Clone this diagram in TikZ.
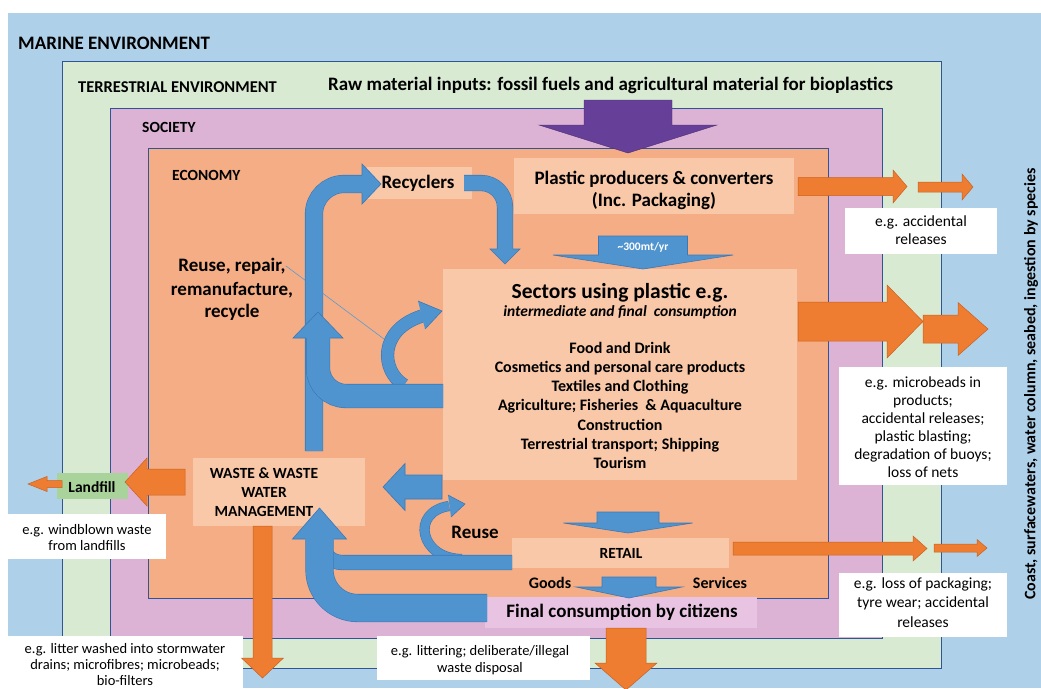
\documentclass[tikz,border=0pt]{standalone}
\usepackage{fontspec}
\setmainfont{Carlito}
\definecolor{marineC}{HTML}{AFD0E9}
\definecolor{terrC}{HTML}{D9EAD3}
\definecolor{socC}{HTML}{DDB3D5}
\definecolor{econC}{HTML}{F4AD84}
\definecolor{lboxC}{HTML}{F8C8A8}
\definecolor{finalC}{HTML}{E9C4E2}
\definecolor{landC}{HTML}{A9D39A}
\definecolor{bfillC}{HTML}{4F94CF}
\definecolor{bedgeC}{HTML}{3A78B8}
\definecolor{orangeC}{HTML}{EE7D31}
\definecolor{oedgeC}{HTML}{C9611F}
\definecolor{purpleC}{HTML}{663F98}
\definecolor{navyC}{HTML}{2F5597}
\definecolor{lineC}{HTML}{5B9BD5}
\newcommand\fsz[2]{\fontsize{#1}{#2}\selectfont}
% horizontal block arrow: shaft start x, head base x, tip x, centre y, shaft half, head half, style
\newcommand\blockH[7]{\path[#7] ({#1},{#4-#5}) -- ({#2},{#4-#5}) -- ({#2},{#4-#6}) -- ({#3},{#4}) -- ({#2},{#4+#6}) -- ({#2},{#4+#5}) -- ({#1},{#4+#5}) -- cycle;}
% vertical block arrow: shaft start y, head base y, tip y, centre x, shaft half, head half, style
\newcommand\blockV[7]{\path[#7] ({#4-#5},{#1}) -- ({#4-#5},{#2}) -- ({#4-#6},{#2}) -- ({#4},{#3}) -- ({#4+#6},{#2}) -- ({#4+#5},{#2}) -- ({#4+#5},{#1}) -- cycle;}
% heads for band arrows
\newcommand\headH[5]{\fill[bfillC] ({#1},{#3-#5}) -- ({#2},{#3}) -- ({#1},{#3+#5}) -- cycle;
 \draw[bedgeC, line width=0.6pt] ({#1},{#3-#4}) -- ({#1},{#3-#5}) -- ({#2},{#3}) -- ({#1},{#3+#5}) -- ({#1},{#3+#4});}
\newcommand\headV[5]{\fill[bfillC] ({#3-#5},{#1}) -- ({#3},{#2}) -- ({#3+#5},{#1}) -- cycle;
 \draw[bedgeC, line width=0.6pt] ({#3-#4},{#1}) -- ({#3-#5},{#1}) -- ({#3},{#2}) -- ({#3+#5},{#1}) -- ({#3+#4},{#1});}
\begin{document}
\begin{tikzpicture}[x=1pt,y=-1pt,
 txt/.style={inner sep=0pt, anchor=base},
 envline/.style={draw=navyC, line width=0.7pt},
 lbox/.style={fill=lboxC, inner sep=0pt, anchor=north west},
 wbox/.style={fill=white, inner sep=0pt, anchor=north west},
 oarrow/.style={fill=orangeC, draw=oedgeC, line width=0.5pt},
 barrow/.style={fill=bfillC, draw=bedgeC, line width=0.6pt},
 bband/.style={draw=bedgeC, line width=0.6pt, double=bfillC, double distance=#1},
 big/.style={font=\fsz{19}{23}\bfseries},
 mid/.style={font=\fsz{15.5}{19}\bfseries},
 lst/.style={font=\fsz{16}{19}\bfseries},
 wl/.style={font=\fsz{14.5}{17}},
 wr/.style={font=\fsz{15.5}{18}}]
\useasboundingbox (0,0) rectangle (1041,688);
\clip (0,0) rectangle (1041,688);
\fill[white] (0,0) rectangle (1041,688);
\fill[marineC] (8,13) rectangle (1041,688);
\draw[envline, fill=terrC] (62,61) rectangle (941,668);
\draw[envline, fill=socC] (110,108) rectangle (882,638);
\draw[envline, fill=econC] (148,148) rectangle (828,598);

% environment labels
\node[txt, anchor=base west, big] (marine) at (18,49) {MARINE ENVIRONMENT};
\node[txt, anchor=base west, font=\fsz{16.5}{20}\bfseries] (terr) at (78,92) {TERRESTRIAL ENVIRONMENT};
\node[txt, anchor=base west, big] (raw) at (328,90) {Raw material inputs: fossil fuels and agricultural material for bioplastics};
\node[txt, anchor=base west, mid] (soc) at (142,132) {SOCIETY};
\node[txt, anchor=base west, mid] (econ) at (172,180) {ECONOMY};

% boxes
\node[lbox, minimum width=105pt, minimum height=32pt] (recycbox) at (367,167) {};
\node[lbox, minimum width=280pt, minimum height=56pt] (prodbox) at (514,158) {};
\node[lbox, minimum width=354pt, minimum height=211pt] (sectbox) at (443,269) {};
\node[lbox, minimum width=172pt, minimum height=68pt] (wastebox) at (193,458) {};
\node[lbox, minimum width=217pt, minimum height=30pt] (retailbox) at (512,538) {};
\node[lbox, fill=finalC, minimum width=272pt, minimum height=31pt] (finalbox) at (485,597) {};
\node[lbox, fill=landC, minimum width=71pt, minimum height=26pt] (landbox) at (57,473) {};
\node[wbox, minimum width=158pt, minimum height=45pt] (windbox) at (8,514) {};
\node[wbox, minimum width=235pt, minimum height=60pt] (litterbox) at (8,636) {};
\node[wbox, minimum width=213pt, minimum height=44pt] (litteringbox) at (377,636) {};
\node[wbox, minimum width=152pt, minimum height=46pt] (accbox) at (845,208) {};
\node[wbox, minimum width=168pt, minimum height=118pt] (microbox) at (839,367) {};
\node[wbox, minimum width=168pt, minimum height=64pt] (packbox) at (839,573) {};

% texts in boxes
\node[txt, big] (recyc) at (418,188) {Recyclers};
\node[txt, big] (prod1) at (654,184) {Plastic producers \& converters};
\node[txt, big] (prod2) at (654,206) {(Inc. Packaging)};
\node[txt, font=\fsz{21.5}{25}\bfseries] (sect) at (620,298) {Sectors using plastic e.g.};
\node[txt, font=\fsz{15.5}{19}\bfseries\itshape] (inter) at (620,316) {intermediate and final\ \ consumption};
\node[txt, lst] (s1) at (620,353) {Food and Drink};
\node[txt, lst] (s2) at (620,372) {Cosmetics and personal care products};
\node[txt, lst] (s3) at (620,391) {Textiles and Clothing};
\node[txt, lst] (s4) at (620,410) {Agriculture; Fisheries\ \ \& Aquaculture};
\node[txt, lst] (s5) at (620,430) {Construction};
\node[txt, lst] (s6) at (620,449) {Terrestrial transport; Shipping};
\node[txt, lst] (s7) at (620,468) {Tourism};
\node[txt, big] (rr1) at (232,271) {Reuse, repair,};
\node[txt, big] (rr2) at (232,295) {remanufacture,};
\node[txt, big] (rr3) at (232,317) {recycle};
\node[txt, mid] (w1) at (264,478) {WASTE \& WASTE};
\node[txt, mid] (w2) at (264,497) {WATER};
\node[txt, mid] (w3) at (264,516) {MANAGEMENT};
\node[txt, mid] (land) at (92,492) {Landfill};
\node[txt, big] (reuse) at (475,538) {Reuse};
\node[txt, mid] (retail) at (621,558) {RETAIL};
\node[txt, font=\fsz{16}{19}\bfseries] (goods) at (550,588) {Goods};
\node[txt, font=\fsz{16}{19}\bfseries] (services) at (720,588) {Services};
\node[txt, big] (final) at (622,617) {Final consumption by citizens};
\node[txt, wl] (wb1) at (87,534) {e.g. windblown waste};
\node[txt, wl] (wb2) at (87,550) {from landfills};
\node[txt, wl] (lt1) at (125,653) {e.g. litter washed into stormwater};
\node[txt, wl] (lt2) at (125,669) {drains; microfibres; microbeads;};
\node[txt, wl] (lt3) at (125,685) {bio-filters};
\node[txt, wl] (lg1) at (480,655) {e.g. littering; deliberate/illegal};
\node[txt, wl] (lg2) at (480,672) {waste disposal};
\node[txt, wr] (ac1) at (921,226) {e.g. accidental};
\node[txt, wr] (ac2) at (921,244) {releases};
\node[txt, wr] (mb1) at (923,387) {e.g. microbeads in};
\node[txt, wr] (mb2) at (923,405) {products;};
\node[txt, wr] (mb3) at (923,423) {accidental releases;};
\node[txt, wr] (mb4) at (923,441) {plastic blasting;};
\node[txt, wr] (mb5) at (923,459) {degradation of buoys;};
\node[txt, wr] (mb6) at (923,477) {loss of nets};
\node[txt, wr] (pk1) at (923,588) {e.g. loss of packaging;};
\node[txt, wr] (pk2) at (923,607) {tyre wear; accidental};
\node[txt, wr] (pk3) at (923,627) {releases};
\node[rotate=90, inner sep=0pt, font=\fsz{16}{19}\bfseries] (coast) at (1031,384) {Coast, surfacewaters, water column, seabed, ingestion by species};

% thin pointer line
\coordinate (arcpt) at (384,339);
\draw[lineC, line width=0.6pt] (rr1.east) -- (arcpt);

% blue loop: waste -> recyclers -> sectors
\draw[bband=17, rounded corners=30] (314,451) -- (314,184) -- (362,184);
\headH{362}{381}{184}{9.1}{20}
\draw[bband=15, rounded corners=24] (464,183) -- (505,183) -- (505,249);
\headV{249}{264}{505}{8.1}{15}
% curved arrow (reuse within sectors)
\draw[bband=12] (404,385) .. controls (381,371) and (378,330) .. (422,316);
\fill[bfillC] (418,301) -- (442,311) -- (425,329) -- cycle;
\draw[bedgeC, line width=0.6pt] (418,301) -- (442,311) -- (425,329);
% L arrow from sectors upward
\draw[bband=23, rounded corners=28] (443,396) -- (318,396) -- (318,338);
\headV{338}{312}{318}{12.1}{25}
% sectors -> waste
\blockH{442}{405}{383}{487}{12}{23.5}{barrow}
% down arrows
\blockV{236}{255}{269}{643}{44.5}{90}{barrow}
\blockV{512}{523}{533}{628}{31}{64.5}{barrow}
\blockV{577}{587}{598}{629}{27}{53}{barrow}
% reuse arc near retail
\draw[bband=9] (462,559) .. controls (420,559) and (410,512) .. (449,506);
\fill[bfillC] (448,495) -- (465,504) -- (451,517) -- cycle;
\draw[bedgeC, line width=0.6pt] (448,495) -- (465,504) -- (451,517);
% retail -> waste and final consumption -> waste
\draw[bband=14, rounded corners=20] (512,562.5) -- (322,562.5) -- (322,539);
\draw[bband=27, rounded corners=38] (487,608) -- (319.5,608) -- (319.5,539);
\headV{539}{508}{319.5}{14.1}{27}

% purple input arrow
\blockV{100}{125}{153}{628}{44}{89}{fill=purpleC, draw=purpleC!75!black, line width=0.4pt}

% orange arrows
\blockH{798}{893}{907}{186.5}{9}{16.5}{oarrow}
\blockH{918}{962}{973}{187}{5}{13}{oarrow}
\blockH{798}{887}{923}{321.5}{19.5}{36.5}{oarrow}
\blockH{923}{958}{988}{329}{14}{26.5}{oarrow}
\blockH{733}{913}{927}{548.5}{6.5}{12.5}{oarrow}
\blockH{934}{977}{987}{548}{4}{8.5}{oarrow}
\blockH{62}{47}{28}{484}{3.5}{7.5}{oarrow}
\blockH{185}{147}{125}{482}{13}{24}{oarrow}
\blockV{526}{658}{678}{262.5}{9.5}{21}{oarrow}
\blockV{628}{663}{690}{626}{20}{31}{oarrow}

\node[txt, font=\fsz{11.5}{14}\bfseries, text=white] (flow) at (643,250) {\char"007E 300mt/yr};
\end{tikzpicture}
\end{document}
